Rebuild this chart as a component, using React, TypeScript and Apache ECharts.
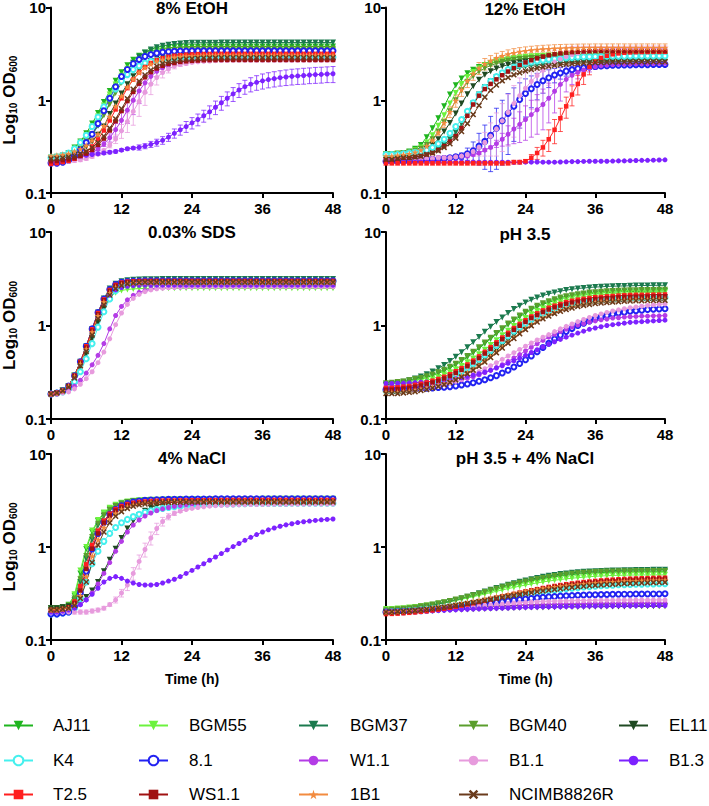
import React, { useEffect, useRef } from "react";
import * as echarts from "echarts";

const HOURS = [0,1,2,3,4,5,6,7,8,9,10,11,12,13,14,15,16,17,18,19,20,21,22,23,24,25,26,27,28,29,30,31,32,33,34,35,36,37,38,39,40,41,42,43,44,45,46,47,48];
const X_TICK_INTERVAL = 12;
const STRAINS = ["AJ11","BGM55","BGM37","BGM40","EL11","K4","8.1","W1.1","B1.1","B1.3","T2.5","WS1.1","1B1","NCIMB8826R"];
const COLORS = ["#1fb51f","#6cf23e","#1b7a4e","#5b9e2d","#1f4a22","#45f0ee","#2222f2","#b43ce6","#e79bdd","#7d22ff","#ff1f1f","#a01212","#f28b3f","#6a3b1c"];
const PANEL_TITLES = ["8% EtOH","12% EtOH","0.03% SDS","pH 3.5","4% NaCl","pH 3.5 + 4% NaCl"];

// ---- 8% EtOH (rows in STRAINS order) ----
const ETOH8: number[][] = [
[0.24,0.245,0.25,0.27,0.31,0.36,0.44,0.56,0.73,0.96,1.26,1.62,2.01,2.39,2.74,3.02,3.26,3.41,3.53,3.62,3.67,3.72,3.74,3.77,3.78,3.78,3.79,3.79,3.79,3.79,3.8,3.8,3.8,3.8,3.8,3.8,3.8,3.8,3.8,3.8,3.8,3.8,3.8,3.8,3.8,3.8,3.8,3.8,3.8],
[0.23,0.235,0.245,0.265,0.3,0.35,0.416,0.519,0.667,0.876,1.15,1.48,1.84,2.19,2.51,2.77,2.99,3.12,3.23,3.32,3.37,3.41,3.43,3.45,3.46,3.46,3.47,3.47,3.47,3.48,3.48,3.48,3.48,3.48,3.48,3.48,3.48,3.48,3.48,3.48,3.48,3.48,3.48,3.48,3.48,3.48,3.48,3.48,3.48],
[0.22,0.227,0.235,0.25,0.269,0.3,0.347,0.42,0.531,0.697,0.939,1.26,1.66,2.1,2.54,2.94,3.28,3.53,3.72,3.86,3.97,4.03,4.1,4.14,4.16,4.17,4.17,4.18,4.18,4.19,4.19,4.19,4.19,4.19,4.19,4.19,4.19,4.19,4.19,4.19,4.19,4.19,4.19,4.19,4.19,4.19,4.19,4.19,4.19],
[0.24,0.246,0.253,0.267,0.287,0.317,0.363,0.431,0.538,0.691,0.907,1.2,1.54,1.91,2.27,2.6,2.87,3.1,3.24,3.35,3.44,3.49,3.53,3.55,3.58,3.59,3.59,3.6,3.6,3.6,3.6,3.6,3.6,3.6,3.6,3.6,3.6,3.6,3.6,3.6,3.6,3.6,3.6,3.6,3.6,3.6,3.6,3.6,3.6],
[0.23,0.235,0.24,0.25,0.265,0.285,0.315,0.36,0.425,0.52,0.71,0.92,1.18,1.49,1.81,2.13,2.41,2.65,2.83,2.96,3.03,3.11,3.16,3.19,3.22,3.24,3.25,3.25,3.26,3.26,3.26,3.26,3.26,3.26,3.26,3.26,3.26,3.26,3.26,3.26,3.26,3.26,3.26,3.26,3.26,3.26,3.26,3.26,3.26],
[0.24,0.245,0.255,0.27,0.3,0.35,0.42,0.52,0.66,0.85,1.05,1.32,1.61,1.89,2.14,2.35,2.52,2.63,2.7,2.76,2.81,2.83,2.86,2.88,2.89,2.89,2.9,2.9,2.9,2.9,2.9,2.9,2.9,2.9,2.9,2.9,2.9,2.9,2.9,2.9,2.9,2.9,2.9,2.9,2.9,2.9,2.9,2.9,2.9],
[0.21,0.21,0.215,0.225,0.25,0.29,0.35,0.43,0.56,0.77,1.05,1.4,1.8,2.15,2.48,2.75,2.97,3.11,3.22,3.3,3.34,3.37,3.39,3.4,3.41,3.41,3.42,3.42,3.42,3.42,3.42,3.42,3.42,3.42,3.42,3.42,3.42,3.42,3.42,3.42,3.42,3.42,3.42,3.42,3.42,3.42,3.42,3.42,3.42],
[0.222,0.224,0.227,0.231,0.235,0.242,0.255,0.271,0.297,0.337,0.394,0.482,0.607,0.781,1.0,1.26,1.54,1.81,2.05,2.24,2.4,2.51,2.57,2.64,2.68,2.71,2.73,2.75,2.76,2.76,2.77,2.77,2.77,2.77,2.77,2.77,2.77,2.77,2.77,2.77,2.77,2.77,2.77,2.77,2.77,2.77,2.77,2.77,2.77],
[0.215,0.216,0.217,0.22,0.224,0.228,0.235,0.247,0.263,0.288,0.327,0.382,0.468,0.589,0.758,0.97,1.22,1.49,1.76,1.99,2.17,2.33,2.43,2.49,2.56,2.6,2.63,2.65,2.67,2.68,2.68,2.69,2.69,2.69,2.69,2.69,2.69,2.69,2.69,2.69,2.69,2.69,2.69,2.69,2.69,2.69,2.69,2.69,2.69],
[0.21,0.21,0.22,0.23,0.24,0.25,0.255,0.26,0.265,0.27,0.275,0.28,0.29,0.3,0.305,0.31,0.32,0.335,0.35,0.37,0.4,0.44,0.48,0.52,0.57,0.62,0.68,0.75,0.84,0.94,1.05,1.17,1.29,1.4,1.49,1.56,1.62,1.67,1.71,1.75,1.78,1.81,1.83,1.85,1.87,1.89,1.9,1.92,1.93],
[0.206,0.21,0.216,0.222,0.234,0.252,0.278,0.318,0.378,0.472,0.606,0.796,1.05,1.35,1.67,1.99,2.28,2.52,2.72,2.84,2.94,3.02,3.06,3.1,3.12,3.14,3.15,3.15,3.16,3.16,3.16,3.16,3.16,3.16,3.16,3.16,3.16,3.16,3.16,3.16,3.16,3.16,3.16,3.16,3.16,3.16,3.16,3.16,3.16],
[0.22,0.222,0.226,0.23,0.237,0.25,0.266,0.291,0.33,0.386,0.472,0.595,0.765,0.98,1.23,1.51,1.77,2.01,2.2,2.35,2.46,2.52,2.59,2.63,2.66,2.68,2.7,2.71,2.71,2.72,2.72,2.72,2.72,2.72,2.72,2.72,2.72,2.72,2.72,2.72,2.72,2.72,2.72,2.72,2.72,2.72,2.72,2.72,2.72],
[0.25,0.254,0.259,0.266,0.281,0.298,0.326,0.37,0.432,0.529,0.668,0.858,1.11,1.39,1.69,1.99,2.25,2.46,2.63,2.75,2.83,2.9,2.95,2.98,2.99,3.02,3.03,3.03,3.04,3.04,3.04,3.04,3.04,3.04,3.04,3.04,3.04,3.04,3.04,3.04,3.04,3.04,3.04,3.04,3.04,3.04,3.04,3.04,3.04],
[0.233,0.235,0.239,0.244,0.251,0.264,0.28,0.308,0.349,0.409,0.5,0.629,0.809,1.04,1.31,1.6,1.87,2.12,2.33,2.49,2.6,2.67,2.74,2.78,2.8,2.83,2.85,2.86,2.86,2.87,2.87,2.87,2.87,2.87,2.87,2.87,2.87,2.87,2.87,2.87,2.87,2.87,2.87,2.87,2.87,2.87,2.87,2.87,2.87],
];

// ---- 12% EtOH ----
const ETOH12: number[][] = [
[0.26,0.26,0.265,0.27,0.28,0.3,0.33,0.4,0.5,0.64,0.86,1.15,1.45,1.72,1.95,2.13,2.28,2.4,2.5,2.58,2.65,2.7,2.75,2.78,2.81,2.83,2.85,2.86,2.87,2.88,2.88,2.88,2.89,2.89,2.89,2.89,2.9,2.9,2.9,2.9,2.9,2.9,2.9,2.9,2.9,2.9,2.9,2.9,2.9],
[0.26,0.26,0.265,0.27,0.275,0.29,0.31,0.35,0.42,0.53,0.69,0.92,1.2,1.5,1.78,2.02,2.22,2.38,2.52,2.63,2.72,2.8,2.86,2.91,2.95,2.98,3.0,3.02,3.04,3.05,3.06,3.07,3.07,3.08,3.08,3.09,3.09,3.09,3.1,3.1,3.1,3.1,3.1,3.1,3.1,3.1,3.1,3.1,3.1],
[0.24,0.24,0.245,0.25,0.25,0.255,0.26,0.27,0.28,0.3,0.33,0.38,0.45,0.56,0.72,0.92,1.15,1.38,1.6,1.78,1.93,2.06,2.16,2.24,2.31,2.37,2.42,2.46,2.49,2.52,2.54,2.56,2.57,2.58,2.58,2.59,2.59,2.6,2.6,2.6,2.6,2.6,2.6,2.6,2.6,2.6,2.6,2.6,2.6],
[0.26,0.26,0.265,0.27,0.275,0.285,0.3,0.33,0.38,0.46,0.58,0.76,1.0,1.28,1.56,1.82,2.04,2.22,2.37,2.49,2.59,2.67,2.73,2.78,2.82,2.85,2.88,2.9,2.92,2.94,2.95,2.96,2.97,2.97,2.98,2.98,2.99,2.99,3.0,3.0,3.0,3.0,3.0,3.0,3.0,3.0,3.0,3.0,3.0],
[0.25,0.25,0.255,0.26,0.265,0.27,0.28,0.3,0.33,0.38,0.46,0.57,0.72,0.92,1.16,1.42,1.66,1.88,2.06,2.2,2.32,2.42,2.5,2.56,2.61,2.65,2.68,2.71,2.73,2.75,2.76,2.77,2.78,2.78,2.79,2.79,2.8,2.8,2.8,2.8,2.8,2.8,2.8,2.8,2.8,2.8,2.8,2.8,2.8],
[0.26,0.26,0.26,0.265,0.27,0.275,0.28,0.29,0.31,0.34,0.38,0.44,0.52,0.62,0.76,0.94,1.15,1.38,1.6,1.8,1.98,2.14,2.28,2.4,2.5,2.58,2.65,2.71,2.76,2.8,2.84,2.87,2.9,2.92,2.94,2.95,2.96,2.97,2.98,2.98,2.99,2.99,3.0,3.0,3.0,3.0,3.0,3.0,3.0],
[0.22,0.22,0.22,0.22,0.22,0.225,0.225,0.23,0.23,0.23,0.235,0.24,0.245,0.25,0.265,0.285,0.32,0.36,0.42,0.5,0.6,0.72,0.86,1.02,1.18,1.33,1.48,1.62,1.75,1.87,1.97,2.06,2.13,2.19,2.24,2.28,2.31,2.34,2.36,2.38,2.39,2.4,2.4,2.41,2.42,2.42,2.43,2.43,2.43],
[0.23,0.23,0.23,0.23,0.23,0.23,0.235,0.235,0.235,0.24,0.24,0.24,0.245,0.25,0.25,0.26,0.27,0.29,0.31,0.34,0.38,0.43,0.49,0.55,0.62,0.7,0.79,0.9,1.05,1.25,1.48,1.68,1.86,2.0,2.12,2.22,2.3,2.36,2.4,2.43,2.45,2.46,2.47,2.48,2.48,2.49,2.49,2.5,2.5],
[0.23,0.23,0.23,0.23,0.23,0.23,0.23,0.235,0.235,0.24,0.24,0.24,0.245,0.25,0.26,0.28,0.31,0.35,0.41,0.49,0.6,0.74,0.92,1.12,1.35,1.6,1.85,2.1,2.35,2.58,2.78,2.95,3.1,3.22,3.32,3.4,3.46,3.5,3.53,3.56,3.58,3.58,3.59,3.59,3.6,3.6,3.6,3.6,3.6],
[0.215,0.215,0.214,0.215,0.215,0.215,0.216,0.215,0.215,0.215,0.214,0.215,0.215,0.215,0.215,0.216,0.215,0.215,0.215,0.215,0.215,0.215,0.214,0.215,0.215,0.215,0.216,0.215,0.215,0.215,0.216,0.217,0.218,0.218,0.219,0.22,0.22,0.22,0.22,0.221,0.222,0.222,0.223,0.224,0.225,0.225,0.226,0.227,0.228],
[0.21,0.21,0.21,0.21,0.21,0.21,0.21,0.21,0.21,0.21,0.21,0.21,0.21,0.21,0.21,0.21,0.21,0.21,0.21,0.21,0.21,0.21,0.215,0.215,0.22,0.24,0.27,0.31,0.38,0.48,0.64,0.86,1.15,1.5,1.9,2.3,2.62,2.86,3.02,3.13,3.2,3.25,3.28,3.3,3.31,3.31,3.32,3.32,3.33],
[0.23,0.23,0.235,0.24,0.24,0.245,0.25,0.26,0.27,0.29,0.32,0.36,0.41,0.5,0.68,0.9,1.12,1.32,1.5,1.68,1.86,2.04,2.22,2.4,2.56,2.7,2.83,2.95,3.05,3.13,3.2,3.26,3.3,3.33,3.36,3.38,3.39,3.4,3.4,3.4,3.4,3.4,3.4,3.4,3.4,3.4,3.4,3.4,3.4],
[0.25,0.25,0.255,0.26,0.265,0.275,0.29,0.32,0.37,0.45,0.57,0.75,0.99,1.3,1.62,1.94,2.22,2.47,2.68,2.86,3.01,3.14,3.25,3.34,3.41,3.47,3.52,3.56,3.59,3.62,3.64,3.66,3.67,3.68,3.69,3.69,3.7,3.7,3.7,3.7,3.7,3.7,3.7,3.7,3.7,3.7,3.7,3.7,3.7],
[0.23,0.23,0.235,0.24,0.24,0.245,0.25,0.26,0.27,0.285,0.31,0.34,0.39,0.46,0.56,0.7,0.88,1.08,1.28,1.46,1.62,1.76,1.88,1.98,2.07,2.15,2.22,2.28,2.33,2.38,2.42,2.45,2.48,2.5,2.52,2.54,2.55,2.56,2.57,2.58,2.58,2.59,2.59,2.6,2.6,2.6,2.6,2.6,2.6],
];

// ---- 0.03% SDS ----
const SDS: number[][] = [
[0.185,0.19,0.2,0.225,0.29,0.4,0.58,0.88,1.3,1.82,2.28,2.58,2.74,2.82,2.86,2.88,2.89,2.89,2.9,2.9,2.9,2.9,2.9,2.9,2.9,2.9,2.9,2.9,2.9,2.9,2.9,2.9,2.9,2.9,2.9,2.9,2.9,2.9,2.9,2.9,2.9,2.9,2.9,2.9,2.9,2.9,2.9,2.9,2.9],
[0.185,0.19,0.2,0.225,0.29,0.4,0.57,0.85,1.22,1.64,2.0,2.24,2.37,2.43,2.46,2.48,2.49,2.49,2.5,2.5,2.5,2.5,2.5,2.5,2.5,2.5,2.5,2.5,2.5,2.5,2.5,2.5,2.5,2.5,2.5,2.5,2.5,2.5,2.5,2.5,2.5,2.5,2.5,2.5,2.5,2.5,2.5,2.5,2.5],
[0.185,0.19,0.2,0.225,0.29,0.41,0.6,0.92,1.38,1.95,2.48,2.8,2.97,3.05,3.09,3.11,3.12,3.13,3.13,3.14,3.15,3.15,3.15,3.15,3.15,3.15,3.15,3.15,3.15,3.15,3.15,3.15,3.15,3.15,3.15,3.15,3.15,3.15,3.15,3.15,3.15,3.15,3.15,3.15,3.15,3.15,3.15,3.15,3.15],
[0.185,0.19,0.2,0.225,0.29,0.4,0.58,0.87,1.28,1.77,2.2,2.49,2.64,2.72,2.76,2.78,2.79,2.79,2.8,2.8,2.8,2.8,2.8,2.8,2.8,2.8,2.8,2.8,2.8,2.8,2.8,2.8,2.8,2.8,2.8,2.8,2.8,2.8,2.8,2.8,2.8,2.8,2.8,2.8,2.8,2.8,2.8,2.8,2.8],
[0.185,0.19,0.2,0.22,0.27,0.36,0.5,0.73,1.08,1.52,1.98,2.34,2.56,2.68,2.74,2.77,2.78,2.79,2.8,2.8,2.8,2.8,2.8,2.8,2.8,2.8,2.8,2.8,2.8,2.8,2.8,2.8,2.8,2.8,2.8,2.8,2.8,2.8,2.8,2.8,2.8,2.8,2.8,2.8,2.8,2.8,2.8,2.8,2.8],
[0.185,0.19,0.195,0.21,0.25,0.32,0.44,0.64,0.96,1.4,1.92,2.36,2.64,2.8,2.88,2.92,2.94,2.95,2.95,2.95,2.95,2.95,2.95,2.95,2.95,2.95,2.95,2.95,2.95,2.95,2.95,2.95,2.95,2.95,2.95,2.95,2.95,2.95,2.95,2.95,2.95,2.95,2.95,2.95,2.95,2.95,2.95,2.95,2.95],
[0.185,0.19,0.2,0.225,0.29,0.41,0.6,0.92,1.38,1.92,2.42,2.74,2.9,2.96,2.98,2.99,3.0,3.0,3.0,3.0,3.0,3.0,3.0,3.0,3.0,3.0,3.0,3.0,3.0,3.0,3.0,3.0,3.0,3.0,3.0,3.0,3.0,3.0,3.0,3.0,3.0,3.0,3.0,3.0,3.0,3.0,3.0,3.0,3.0],
[0.185,0.19,0.195,0.205,0.225,0.26,0.31,0.38,0.48,0.64,0.92,1.28,1.6,1.88,2.1,2.26,2.37,2.45,2.5,2.53,2.55,2.57,2.58,2.59,2.59,2.6,2.6,2.6,2.6,2.6,2.6,2.6,2.6,2.6,2.6,2.6,2.6,2.6,2.6,2.6,2.6,2.6,2.6,2.6,2.6,2.6,2.6,2.6,2.6],
[0.185,0.185,0.19,0.195,0.21,0.235,0.27,0.32,0.4,0.52,0.72,1.02,1.36,1.68,1.95,2.15,2.3,2.4,2.47,2.51,2.54,2.56,2.58,2.59,2.59,2.6,2.6,2.6,2.6,2.6,2.6,2.6,2.6,2.6,2.6,2.6,2.6,2.6,2.6,2.6,2.6,2.6,2.6,2.6,2.6,2.6,2.6,2.6,2.6],
[0.185,0.19,0.2,0.225,0.285,0.39,0.56,0.85,1.25,1.72,2.12,2.4,2.55,2.63,2.67,2.69,2.7,2.7,2.7,2.7,2.7,2.7,2.7,2.7,2.7,2.7,2.7,2.7,2.7,2.7,2.7,2.7,2.7,2.7,2.7,2.7,2.7,2.7,2.7,2.7,2.7,2.7,2.7,2.7,2.7,2.7,2.7,2.7,2.7],
[0.185,0.19,0.2,0.225,0.29,0.41,0.6,0.91,1.36,1.9,2.4,2.72,2.88,2.95,2.98,2.99,3.0,3.0,3.0,3.0,3.0,3.0,3.0,3.0,3.0,3.0,3.0,3.0,3.0,3.0,3.0,3.0,3.0,3.0,3.0,3.0,3.0,3.0,3.0,3.0,3.0,3.0,3.0,3.0,3.0,3.0,3.0,3.0,3.0],
[0.185,0.19,0.2,0.225,0.29,0.4,0.58,0.88,1.32,1.86,2.34,2.66,2.83,2.9,2.93,2.94,2.95,2.95,2.95,2.95,2.95,2.95,2.95,2.95,2.95,2.95,2.95,2.95,2.95,2.95,2.95,2.95,2.95,2.95,2.95,2.95,2.95,2.95,2.95,2.95,2.95,2.95,2.95,2.95,2.95,2.95,2.95,2.95,2.95],
[0.185,0.19,0.2,0.225,0.285,0.39,0.56,0.85,1.27,1.78,2.24,2.56,2.73,2.82,2.86,2.88,2.9,2.9,2.9,2.9,2.9,2.9,2.9,2.9,2.9,2.9,2.9,2.9,2.9,2.9,2.9,2.9,2.9,2.9,2.9,2.9,2.9,2.9,2.9,2.9,2.9,2.9,2.9,2.9,2.9,2.9,2.9,2.9,2.9],
[0.185,0.19,0.2,0.22,0.275,0.37,0.53,0.79,1.18,1.66,2.12,2.48,2.68,2.79,2.85,2.88,2.9,2.9,2.9,2.9,2.9,2.9,2.9,2.9,2.9,2.9,2.9,2.9,2.9,2.9,2.9,2.9,2.9,2.9,2.9,2.9,2.9,2.9,2.9,2.9,2.9,2.9,2.9,2.9,2.9,2.9,2.9,2.9,2.9],
];

// ---- pH 3.5 ----
const PH35: number[][] = [
[0.234,0.237,0.241,0.245,0.252,0.259,0.267,0.279,0.291,0.308,0.327,0.352,0.38,0.416,0.458,0.508,0.569,0.638,0.719,0.809,0.908,1.02,1.13,1.24,1.36,1.47,1.58,1.68,1.77,1.85,1.93,2.0,2.05,2.1,2.14,2.18,2.2,2.23,2.25,2.27,2.29,2.3,2.31,2.31,2.32,2.33,2.33,2.34,2.34],
[0.227,0.227,0.23,0.234,0.238,0.244,0.251,0.259,0.271,0.282,0.299,0.317,0.341,0.369,0.404,0.444,0.493,0.552,0.619,0.697,0.785,0.881,0.989,1.1,1.2,1.32,1.43,1.53,1.63,1.72,1.79,1.87,1.94,1.99,2.04,2.08,2.11,2.13,2.16,2.18,2.2,2.22,2.23,2.24,2.24,2.25,2.26,2.26,2.27],
[0.232,0.237,0.243,0.251,0.259,0.271,0.284,0.301,0.322,0.348,0.378,0.417,0.463,0.519,0.585,0.662,0.753,0.855,0.968,1.09,1.22,1.36,1.5,1.63,1.76,1.88,1.99,2.09,2.18,2.26,2.33,2.39,2.44,2.49,2.52,2.55,2.58,2.59,2.62,2.63,2.64,2.65,2.66,2.67,2.68,2.68,2.69,2.69,2.69],
[0.241,0.244,0.248,0.252,0.26,0.267,0.275,0.287,0.3,0.317,0.337,0.363,0.391,0.428,0.472,0.523,0.586,0.657,0.741,0.833,0.935,1.05,1.16,1.28,1.4,1.51,1.63,1.73,1.82,1.91,1.99,2.06,2.11,2.16,2.2,2.25,2.27,2.3,2.32,2.34,2.36,2.37,2.38,2.38,2.39,2.4,2.4,2.41,2.41],
[0.201,0.201,0.201,0.204,0.207,0.211,0.217,0.223,0.229,0.24,0.25,0.265,0.281,0.303,0.327,0.358,0.394,0.437,0.489,0.548,0.618,0.696,0.781,0.877,0.972,1.07,1.17,1.26,1.36,1.44,1.52,1.59,1.66,1.72,1.76,1.81,1.84,1.87,1.89,1.92,1.94,1.95,1.97,1.98,1.98,1.99,1.99,2.0,2.0],
[0.199,0.199,0.201,0.205,0.208,0.214,0.22,0.227,0.237,0.247,0.262,0.278,0.299,0.323,0.354,0.389,0.432,0.484,0.542,0.611,0.688,0.772,0.867,0.96,1.05,1.16,1.25,1.34,1.43,1.5,1.57,1.64,1.7,1.74,1.79,1.82,1.85,1.87,1.9,1.91,1.93,1.95,1.96,1.96,1.96,1.97,1.98,1.98,1.99],
[0.207,0.207,0.208,0.208,0.209,0.21,0.212,0.213,0.215,0.217,0.219,0.222,0.226,0.231,0.237,0.244,0.253,0.263,0.276,0.291,0.31,0.332,0.36,0.392,0.43,0.473,0.525,0.582,0.646,0.716,0.789,0.865,0.93,1.0,1.06,1.12,1.18,1.23,1.28,1.32,1.36,1.39,1.42,1.44,1.46,1.48,1.49,1.5,1.51],
[0.223,0.224,0.225,0.226,0.227,0.229,0.231,0.233,0.236,0.239,0.244,0.249,0.255,0.262,0.272,0.283,0.296,0.313,0.331,0.355,0.381,0.412,0.449,0.489,0.535,0.585,0.637,0.693,0.75,0.805,0.863,0.914,0.964,1.01,1.05,1.09,1.12,1.15,1.17,1.2,1.21,1.23,1.24,1.25,1.26,1.26,1.27,1.27,1.28],
[0.2,0.201,0.202,0.204,0.206,0.208,0.211,0.215,0.22,0.226,0.233,0.242,0.253,0.266,0.282,0.3,0.32,0.345,0.372,0.4,0.435,0.472,0.512,0.555,0.6,0.65,0.7,0.75,0.8,0.86,0.92,0.98,1.04,1.1,1.16,1.22,1.28,1.33,1.38,1.43,1.47,1.51,1.55,1.58,1.61,1.64,1.66,1.68,1.7],
[0.24,0.24,0.241,0.242,0.243,0.245,0.247,0.249,0.252,0.255,0.259,0.264,0.27,0.276,0.284,0.294,0.305,0.318,0.333,0.351,0.371,0.394,0.42,0.448,0.48,0.514,0.55,0.59,0.63,0.67,0.71,0.75,0.79,0.83,0.87,0.91,0.94,0.97,1.0,1.02,1.04,1.06,1.08,1.09,1.1,1.11,1.12,1.13,1.14],
[0.215,0.215,0.218,0.222,0.225,0.232,0.238,0.246,0.257,0.268,0.283,0.301,0.324,0.35,0.383,0.421,0.467,0.523,0.587,0.661,0.744,0.835,0.938,1.04,1.14,1.25,1.35,1.45,1.55,1.63,1.7,1.78,1.84,1.89,1.93,1.97,2.01,2.02,2.05,2.07,2.09,2.11,2.12,2.13,2.13,2.13,2.14,2.14,2.15],
[0.206,0.206,0.209,0.212,0.216,0.222,0.228,0.235,0.246,0.256,0.271,0.288,0.31,0.334,0.366,0.403,0.447,0.501,0.561,0.633,0.712,0.799,0.898,0.994,1.09,1.2,1.29,1.39,1.48,1.56,1.63,1.7,1.76,1.8,1.85,1.88,1.92,1.94,1.96,1.98,2.0,2.02,2.02,2.03,2.03,2.04,2.05,2.05,2.06],
[0.192,0.192,0.192,0.194,0.198,0.201,0.207,0.212,0.219,0.229,0.239,0.253,0.268,0.289,0.312,0.341,0.376,0.417,0.467,0.523,0.59,0.663,0.745,0.836,0.927,1.02,1.12,1.21,1.3,1.38,1.45,1.52,1.58,1.64,1.68,1.72,1.76,1.79,1.8,1.83,1.85,1.86,1.88,1.89,1.89,1.9,1.9,1.91,1.91],
[0.187,0.187,0.187,0.19,0.193,0.196,0.202,0.207,0.214,0.223,0.233,0.246,0.262,0.282,0.304,0.333,0.366,0.407,0.455,0.51,0.575,0.647,0.726,0.816,0.904,0.992,1.09,1.18,1.26,1.34,1.42,1.48,1.54,1.6,1.64,1.68,1.72,1.74,1.76,1.78,1.8,1.82,1.83,1.84,1.84,1.85,1.85,1.86,1.86],
];

// ---- 4% NaCl ----
const NACL: number[][] = [
[0.22,0.22,0.225,0.24,0.3,0.52,0.95,1.45,1.9,2.3,2.6,2.8,2.95,3.05,3.1,3.14,3.17,3.19,3.2,3.21,3.22,3.22,3.23,3.23,3.24,3.24,3.24,3.25,3.25,3.25,3.25,3.26,3.26,3.26,3.26,3.27,3.27,3.27,3.27,3.27,3.28,3.28,3.28,3.28,3.28,3.28,3.28,3.28,3.28],
[0.21,0.215,0.22,0.235,0.31,0.56,1.0,1.5,1.95,2.35,2.65,2.85,3.0,3.08,3.14,3.18,3.2,3.22,3.23,3.24,3.25,3.25,3.26,3.26,3.27,3.27,3.27,3.28,3.28,3.28,3.28,3.29,3.29,3.29,3.29,3.29,3.3,3.3,3.3,3.3,3.3,3.3,3.3,3.3,3.3,3.3,3.3,3.3,3.3],
[0.21,0.215,0.22,0.23,0.27,0.42,0.75,1.2,1.7,2.15,2.5,2.75,2.92,3.02,3.08,3.12,3.14,3.16,3.17,3.17,3.18,3.18,3.18,3.19,3.19,3.19,3.19,3.19,3.2,3.2,3.2,3.2,3.2,3.2,3.2,3.2,3.2,3.2,3.2,3.2,3.2,3.2,3.2,3.2,3.2,3.2,3.2,3.2,3.2],
[0.22,0.22,0.225,0.235,0.28,0.45,0.8,1.28,1.78,2.2,2.52,2.76,2.92,3.02,3.08,3.12,3.14,3.15,3.16,3.17,3.17,3.18,3.18,3.18,3.19,3.19,3.19,3.19,3.2,3.2,3.2,3.2,3.2,3.2,3.2,3.2,3.2,3.2,3.2,3.2,3.2,3.2,3.2,3.2,3.2,3.2,3.2,3.2,3.2],
[0.22,0.22,0.225,0.23,0.24,0.26,0.29,0.34,0.42,0.55,0.73,0.96,1.25,1.58,1.9,2.2,2.45,2.65,2.8,2.92,3.0,3.06,3.1,3.13,3.15,3.16,3.17,3.18,3.18,3.19,3.2,3.2,3.2,3.2,3.2,3.2,3.2,3.2,3.2,3.2,3.2,3.2,3.2,3.2,3.2,3.2,3.2,3.2,3.2],
[0.19,0.19,0.195,0.2,0.22,0.28,0.42,0.66,0.9,1.15,1.4,1.62,1.82,1.98,2.12,2.25,2.36,2.45,2.53,2.6,2.66,2.71,2.75,2.79,2.82,2.84,2.86,2.88,2.89,2.9,2.91,2.91,2.92,2.92,2.93,2.93,2.93,2.94,2.94,2.94,2.94,2.95,2.95,2.95,2.95,2.95,2.95,2.95,2.95],
[0.19,0.19,0.195,0.2,0.23,0.32,0.55,0.95,1.4,1.85,2.25,2.55,2.78,2.94,3.05,3.12,3.17,3.2,3.22,3.24,3.25,3.26,3.26,3.27,3.27,3.28,3.28,3.28,3.29,3.29,3.3,3.3,3.3,3.3,3.3,3.3,3.3,3.3,3.3,3.3,3.3,3.3,3.3,3.3,3.3,3.3,3.3,3.3,3.3],
[0.2,0.2,0.205,0.21,0.22,0.24,0.27,0.32,0.4,0.52,0.68,0.9,1.15,1.45,1.72,1.95,2.15,2.32,2.46,2.57,2.66,2.73,2.79,2.84,2.88,2.91,2.93,2.95,2.96,2.97,2.98,2.98,2.99,2.99,2.99,3.0,3.0,3.0,3.0,3.0,3.0,3.0,3.0,3.0,3.0,3.0,3.0,3.0,3.0],
[0.2,0.2,0.2,0.2,0.2,0.2,0.2,0.205,0.21,0.22,0.24,0.27,0.32,0.39,0.52,0.7,0.94,1.25,1.58,1.88,2.12,2.3,2.43,2.53,2.6,2.66,2.71,2.75,2.78,2.8,2.82,2.83,2.84,2.85,2.86,2.86,2.87,2.87,2.88,2.88,2.88,2.89,2.89,2.89,2.89,2.9,2.9,2.9,2.9],
[0.2,0.2,0.205,0.21,0.22,0.24,0.27,0.31,0.36,0.42,0.46,0.48,0.46,0.43,0.41,0.395,0.39,0.39,0.395,0.41,0.43,0.45,0.48,0.52,0.56,0.61,0.66,0.72,0.78,0.85,0.93,1.01,1.09,1.18,1.27,1.36,1.45,1.53,1.6,1.67,1.73,1.78,1.83,1.87,1.9,1.93,1.96,1.98,2.0],
[0.21,0.21,0.215,0.225,0.26,0.38,0.65,1.05,1.5,1.92,2.28,2.56,2.76,2.9,2.99,3.05,3.09,3.12,3.14,3.15,3.16,3.16,3.17,3.17,3.18,3.18,3.18,3.19,3.19,3.19,3.2,3.2,3.2,3.2,3.2,3.2,3.2,3.2,3.2,3.2,3.2,3.2,3.2,3.2,3.2,3.2,3.2,3.2,3.2],
[0.21,0.21,0.215,0.225,0.25,0.34,0.58,0.96,1.4,1.82,2.18,2.46,2.66,2.8,2.9,2.96,3.0,3.03,3.05,3.06,3.07,3.08,3.08,3.09,3.09,3.09,3.1,3.1,3.1,3.1,3.1,3.1,3.1,3.1,3.1,3.1,3.1,3.1,3.1,3.1,3.1,3.1,3.1,3.1,3.1,3.1,3.1,3.1,3.1],
[0.21,0.21,0.215,0.22,0.24,0.3,0.48,0.8,1.2,1.62,2.0,2.3,2.54,2.72,2.84,2.92,2.98,3.02,3.04,3.06,3.07,3.08,3.08,3.09,3.09,3.09,3.1,3.1,3.1,3.1,3.1,3.1,3.1,3.1,3.1,3.1,3.1,3.1,3.1,3.1,3.1,3.1,3.1,3.1,3.1,3.1,3.1,3.1,3.1],
[0.21,0.21,0.215,0.22,0.235,0.28,0.42,0.68,1.05,1.45,1.82,2.14,2.4,2.6,2.74,2.84,2.9,2.95,2.98,3.0,3.01,3.02,3.03,3.03,3.04,3.04,3.04,3.05,3.05,3.05,3.05,3.05,3.05,3.05,3.05,3.05,3.05,3.05,3.05,3.05,3.05,3.05,3.05,3.05,3.05,3.05,3.05,3.05,3.05],
];

// ---- pH 3.5 + 4% NaCl ----
const PHNACL: number[][] = [
[0.205,0.207,0.21,0.213,0.216,0.22,0.225,0.23,0.236,0.243,0.25,0.258,0.267,0.276,0.286,0.297,0.309,0.322,0.335,0.349,0.363,0.377,0.391,0.405,0.418,0.431,0.444,0.456,0.467,0.478,0.488,0.497,0.505,0.512,0.518,0.523,0.527,0.53,0.533,0.535,0.537,0.538,0.539,0.54,0.54,0.541,0.541,0.542,0.542],
[0.215,0.216,0.218,0.22,0.223,0.226,0.23,0.235,0.24,0.246,0.252,0.259,0.266,0.274,0.283,0.292,0.302,0.312,0.323,0.334,0.345,0.357,0.368,0.379,0.39,0.401,0.411,0.421,0.43,0.439,0.447,0.455,0.462,0.468,0.474,0.479,0.484,0.488,0.491,0.494,0.496,0.498,0.499,0.5,0.5,0.501,0.501,0.502,0.502],
[0.2,0.203,0.206,0.21,0.214,0.218,0.223,0.229,0.236,0.244,0.252,0.26,0.27,0.28,0.292,0.305,0.318,0.332,0.347,0.362,0.377,0.392,0.407,0.422,0.437,0.451,0.465,0.478,0.49,0.501,0.511,0.52,0.528,0.535,0.541,0.546,0.55,0.553,0.556,0.558,0.56,0.562,0.564,0.565,0.566,0.567,0.568,0.569,0.57],
[0.209,0.211,0.214,0.217,0.22,0.224,0.23,0.235,0.241,0.248,0.255,0.263,0.272,0.282,0.292,0.303,0.315,0.328,0.342,0.356,0.37,0.385,0.399,0.413,0.426,0.44,0.453,0.465,0.476,0.488,0.498,0.507,0.515,0.522,0.528,0.533,0.538,0.541,0.544,0.546,0.548,0.549,0.55,0.551,0.551,0.552,0.552,0.553,0.553],
[0.2,0.2,0.201,0.202,0.203,0.204,0.205,0.206,0.207,0.208,0.209,0.21,0.211,0.212,0.213,0.214,0.215,0.216,0.217,0.218,0.219,0.22,0.221,0.222,0.222,0.223,0.224,0.224,0.225,0.225,0.226,0.226,0.227,0.227,0.227,0.228,0.228,0.228,0.229,0.229,0.229,0.229,0.23,0.23,0.23,0.23,0.23,0.23,0.23],
[0.2,0.201,0.202,0.204,0.206,0.208,0.211,0.214,0.217,0.221,0.225,0.229,0.234,0.239,0.244,0.25,0.256,0.262,0.268,0.275,0.282,0.289,0.296,0.303,0.31,0.317,0.324,0.331,0.338,0.344,0.35,0.356,0.361,0.366,0.371,0.375,0.379,0.383,0.386,0.389,0.392,0.394,0.396,0.398,0.399,0.4,0.401,0.402,0.403],
[0.2,0.2,0.201,0.202,0.203,0.205,0.207,0.209,0.211,0.214,0.217,0.22,0.223,0.227,0.231,0.235,0.239,0.243,0.248,0.253,0.258,0.263,0.267,0.272,0.276,0.28,0.284,0.288,0.291,0.294,0.297,0.299,0.301,0.303,0.305,0.306,0.307,0.308,0.309,0.31,0.31,0.311,0.311,0.312,0.312,0.313,0.313,0.313,0.314],
[0.2,0.2,0.2,0.201,0.202,0.203,0.204,0.205,0.207,0.209,0.211,0.213,0.215,0.217,0.219,0.221,0.223,0.225,0.227,0.229,0.231,0.233,0.235,0.237,0.238,0.239,0.24,0.241,0.242,0.243,0.244,0.245,0.245,0.246,0.246,0.247,0.247,0.248,0.248,0.248,0.249,0.249,0.249,0.25,0.25,0.25,0.25,0.25,0.25],
[0.195,0.196,0.197,0.198,0.2,0.202,0.204,0.206,0.208,0.211,0.214,0.217,0.22,0.223,0.226,0.229,0.232,0.235,0.238,0.241,0.244,0.247,0.25,0.252,0.254,0.256,0.258,0.26,0.261,0.262,0.263,0.264,0.265,0.266,0.266,0.267,0.267,0.268,0.268,0.268,0.269,0.269,0.269,0.27,0.27,0.27,0.27,0.27,0.27],
[0.2,0.2,0.201,0.202,0.203,0.204,0.205,0.206,0.207,0.208,0.209,0.21,0.211,0.213,0.214,0.215,0.216,0.217,0.218,0.219,0.22,0.221,0.222,0.223,0.224,0.225,0.226,0.227,0.227,0.228,0.228,0.229,0.229,0.23,0.23,0.231,0.231,0.232,0.232,0.232,0.233,0.233,0.233,0.234,0.234,0.234,0.235,0.235,0.235],
[0.19,0.191,0.192,0.194,0.196,0.198,0.201,0.204,0.208,0.212,0.217,0.222,0.228,0.234,0.241,0.248,0.256,0.264,0.273,0.282,0.292,0.302,0.312,0.322,0.332,0.342,0.352,0.362,0.372,0.381,0.39,0.398,0.406,0.413,0.42,0.426,0.432,0.437,0.442,0.446,0.45,0.453,0.456,0.459,0.461,0.463,0.465,0.467,0.468],
[0.195,0.196,0.198,0.2,0.202,0.205,0.208,0.211,0.215,0.219,0.224,0.229,0.235,0.241,0.247,0.254,0.261,0.269,0.277,0.285,0.294,0.303,0.312,0.321,0.33,0.339,0.348,0.357,0.366,0.374,0.382,0.39,0.397,0.404,0.41,0.416,0.421,0.426,0.43,0.434,0.438,0.441,0.444,0.447,0.449,0.451,0.453,0.455,0.456],
[0.2,0.201,0.203,0.205,0.207,0.21,0.213,0.217,0.221,0.226,0.231,0.236,0.242,0.248,0.255,0.262,0.269,0.277,0.285,0.293,0.301,0.31,0.318,0.327,0.335,0.343,0.351,0.359,0.366,0.373,0.38,0.386,0.392,0.398,0.403,0.408,0.412,0.416,0.42,0.423,0.426,0.429,0.431,0.433,0.435,0.437,0.438,0.439,0.44],
[0.2,0.201,0.202,0.204,0.206,0.208,0.211,0.214,0.218,0.222,0.226,0.231,0.236,0.241,0.247,0.253,0.259,0.266,0.273,0.28,0.287,0.294,0.301,0.309,0.316,0.323,0.33,0.337,0.344,0.35,0.356,0.362,0.368,0.373,0.378,0.383,0.387,0.391,0.395,0.398,0.401,0.404,0.406,0.408,0.41,0.412,0.414,0.416,0.417],
];

// ---- standard deviations (error bars) for the strains that show visible bars ----
const SD_ETOH8_B13 = [0.01,0.01,0.01,0.01,0.01,0.01,0.01,0.01,0.01,0.01,0.01,0.01,0.01,0.01,0.01,0.02,0.02,0.025,0.03,0.035,0.04,0.05,0.06,0.07,0.08,0.09,0.1,0.12,0.14,0.16,0.18,0.2,0.22,0.24,0.26,0.28,0.3,0.31,0.32,0.33,0.34,0.35,0.35,0.36,0.36,0.37,0.37,0.37,0.38];
const SD_ETOH8_W11 = [0.01,0.01,0.01,0.01,0.01,0.01,0.01,0.01,0.01,0.02,0.04,0.08,0.14,0.22,0.3,0.34,0.34,0.3,0.25,0.2,0.15,0.12,0.1,0.08,0.06,0.06,0.06,0.06,0.06,0.06,0.06,0.06,0.06,0.06,0.06,0.06,0.06,0.06,0.06,0.06,0.06,0.06,0.06,0.06,0.06,0.06,0.06,0.06,0.06];
const SD_ETOH8_B11 = [0.01,0.01,0.01,0.01,0.01,0.01,0.01,0.01,0.01,0.01,0.02,0.04,0.08,0.14,0.22,0.3,0.34,0.34,0.3,0.25,0.2,0.15,0.12,0.1,0.08,0.06,0.06,0.06,0.06,0.06,0.06,0.06,0.06,0.06,0.06,0.06,0.06,0.06,0.06,0.06,0.06,0.06,0.06,0.06,0.06,0.06,0.06,0.06,0.06];
const SD_ETOH12_81 = [0.01,0.01,0.01,0.01,0.01,0.01,0.01,0.01,0.01,0.01,0.01,0.01,0.01,0.02,0.04,0.07,0.12,0.18,0.25,0.32,0.4,0.46,0.5,0.52,0.52,0.5,0.47,0.43,0.38,0.33,0.28,0.24,0.2,0.17,0.14,0.12,0.1,0.1,0.1,0.1,0.1,0.1,0.1,0.1,0.1,0.1,0.1,0.1,0.1];
const SD_ETOH12_B11 = [0.01,0.01,0.01,0.01,0.01,0.01,0.01,0.01,0.01,0.01,0.01,0.01,0.01,0.01,0.01,0.03,0.06,0.1,0.16,0.24,0.32,0.42,0.52,0.62,0.72,0.8,0.86,0.9,0.9,0.88,0.84,0.78,0.7,0.6,0.5,0.42,0.35,0.3,0.25,0.25,0.25,0.25,0.25,0.25,0.25,0.25,0.25,0.25,0.25];
const SD_ETOH12_W11 = [0.01,0.01,0.01,0.01,0.01,0.01,0.01,0.01,0.01,0.01,0.01,0.01,0.01,0.01,0.01,0.01,0.01,0.01,0.01,0.03,0.06,0.1,0.15,0.2,0.25,0.3,0.36,0.42,0.48,0.52,0.5,0.45,0.38,0.3,0.24,0.2,0.15,0.15,0.15,0.15,0.15,0.15,0.15,0.15,0.15,0.15,0.15,0.15,0.15];
const SD_ETOH12_T25 = [0.01,0.01,0.01,0.01,0.01,0.01,0.01,0.01,0.01,0.01,0.01,0.01,0.01,0.01,0.01,0.01,0.01,0.01,0.01,0.01,0.01,0.01,0.01,0.01,0.01,0.02,0.04,0.06,0.1,0.14,0.18,0.22,0.28,0.36,0.42,0.42,0.36,0.28,0.2,0.15,0.1,0.1,0.1,0.1,0.1,0.1,0.1,0.1,0.1];
const SD_ETOH12_1B1 = [0.01,0.01,0.01,0.01,0.01,0.01,0.01,0.01,0.01,0.03,0.06,0.1,0.15,0.2,0.25,0.3,0.33,0.35,0.35,0.35,0.35,0.35,0.35,0.35,0.35,0.35,0.35,0.35,0.35,0.35,0.35,0.35,0.35,0.35,0.35,0.35,0.35,0.35,0.35,0.35,0.35,0.35,0.35,0.35,0.35,0.35,0.35,0.35,0.35];
const SD_NACL_B11 = [0.01,0.01,0.01,0.01,0.01,0.01,0.01,0.01,0.01,0.01,0.01,0.02,0.03,0.05,0.08,0.12,0.16,0.2,0.22,0.2,0.16,0.12,0.08,0.05,0.05,0.05,0.05,0.05,0.05,0.05,0.05,0.05,0.05,0.05,0.05,0.05,0.05,0.05,0.05,0.05,0.05,0.05,0.05,0.05,0.05,0.05,0.05,0.05,0.05];

const PANEL_DATA = [ETOH8, ETOH12, SDS, PH35, NACL, PHNACL];
const ERROR_BARS: { panel: number; strain: string; sd: number[] }[] = [
  { panel: 0, strain: "B1.3", sd: SD_ETOH8_B13 },
  { panel: 0, strain: "W1.1", sd: SD_ETOH8_W11 },
  { panel: 0, strain: "B1.1", sd: SD_ETOH8_B11 },
  { panel: 1, strain: "8.1", sd: SD_ETOH12_81 },
  { panel: 1, strain: "B1.1", sd: SD_ETOH12_B11 },
  { panel: 1, strain: "W1.1", sd: SD_ETOH12_W11 },
  { panel: 1, strain: "T2.5", sd: SD_ETOH12_T25 },
  { panel: 1, strain: "1B1", sd: SD_ETOH12_1B1 },
  { panel: 4, strain: "B1.1", sd: SD_NACL_B11 },
];

const FONT = '"Liberation Sans", Arial, Helvetica, sans-serif';
const STAR = "path://M50,0 L61,35 L98,35 L68,57 L79,91 L50,70 L21,91 L32,57 L2,35 L39,35 Z";
const CROSS = "path://M0,18 L18,0 L50,32 L82,0 L100,18 L68,50 L100,82 L82,100 L50,68 L18,100 L0,82 L32,50 Z";
const SYMBOLS = ["triangle","triangle","triangle","triangle","triangle","emptyCircle","emptyCircle","circle","circle","circle","rect","rect",STAR,CROSS];
const SYMBOL_SIZES = [6,6,6,6,6,5,5,5,5,5,4.5,4.5,7,6];
const LEGEND_SYMBOL_SIZES = [9,9,9,9,9,8,8,8,8,8,8,8,9,9];
const SYMBOL_ROTATE = [180,180,180,180,180,0,0,0,0,0,0,0,0,0];

const GRIDS = [
  { left: 51, top: 7, width: 282, height: 186 },
  { left: 386, top: 7, width: 279, height: 186 },
  { left: 51, top: 232, width: 282, height: 187 },
  { left: 386, top: 232, width: 279, height: 187 },
  { left: 51, top: 454, width: 282, height: 186 },
  { left: 386, top: 454, width: 279, height: 186 },
];
const TITLE_POS = [
  { x: 192, y: 0 }, { x: 525, y: 1 },
  { x: 192, y: 224 }, { x: 525, y: 226 },
  { x: 192, y: 450 }, { x: 525, y: 450 },
];
const LEGEND_COL_X = [3, 138, 298, 458, 618];
const LEGEND_TEXT_PAD = [15, 16, 17, 16, 16];
const LEGEND_ROW_Y = [724, 759, 793];

export default function App() {
  const ref = useRef<HTMLDivElement>(null);
  useEffect(() => {
    if (!ref.current) return;
    const chart = echarts.init(ref.current, null, { renderer: "svg" });
    const series: any[] = [];

    ERROR_BARS.forEach((eb) => {
      const s = STRAINS.indexOf(eb.strain);
      const vals = PANEL_DATA[eb.panel][s];
      const color = COLORS[s];
      series.push({
        type: "custom",
        name: "sd " + eb.strain,
        xAxisIndex: eb.panel,
        yAxisIndex: eb.panel,
        silent: true,
        z: 2,
        encode: { x: 0, y: [1, 2] },
        data: HOURS.map((h, i) => [h, Math.max(vals[i] - eb.sd[i], 0.102), vals[i] + eb.sd[i]]),
        renderItem: (params: any, api: any) => {
          const lo = api.coord([api.value(0), api.value(1)]);
          const hi = api.coord([api.value(0), api.value(2)]);
          const st = { stroke: color, lineWidth: 1, opacity: 0.75 };
          const c = 2.5;
          return {
            type: "group",
            children: [
              { type: "line", shape: { x1: lo[0], y1: lo[1], x2: hi[0], y2: hi[1] }, style: st },
              { type: "line", shape: { x1: hi[0] - c, y1: hi[1], x2: hi[0] + c, y2: hi[1] }, style: st },
              { type: "line", shape: { x1: lo[0] - c, y1: lo[1], x2: lo[0] + c, y2: lo[1] }, style: st },
            ],
          };
        },
      });
    });

    PANEL_DATA.forEach((panel, p) => {
      panel.forEach((vals, s) => {
        const hollow = SYMBOLS[s] === "emptyCircle";
        series.push({
          type: "line",
          name: STRAINS[s],
          xAxisIndex: p,
          yAxisIndex: p,
          data: HOURS.map((h, i) => [h, vals[i]]),
          symbol: SYMBOLS[s],
          symbolSize: SYMBOL_SIZES[s],
          symbolRotate: SYMBOL_ROTATE[s],
          showSymbol: true,
          showAllSymbol: true,
          silent: true,
          z: 3,
          lineStyle: { width: 1, color: COLORS[s] },
          itemStyle: hollow
            ? { color: COLORS[s], borderColor: COLORS[s], borderWidth: 1.8 }
            : { color: COLORS[s], borderWidth: 0 },
        });
      });
    });

    const axisText = { fontSize: 15, fontWeight: "bold", color: "#000", fontFamily: FONT };
    const option: any = {
      animation: false,
      textStyle: { fontFamily: FONT },
      title: PANEL_TITLES.map((t, p) => ({
        text: t,
        left: TITLE_POS[p].x,
        top: TITLE_POS[p].y,
        textAlign: "center",
        padding: 0,
        textStyle: { fontSize: 17, fontWeight: "bold", color: "#000", fontFamily: FONT },
      })),
      grid: GRIDS.map((g) => ({ ...g, containLabel: false })),
      xAxis: GRIDS.map((_, p) => ({
        gridIndex: p,
        type: "value",
        min: 0,
        max: 48,
        interval: X_TICK_INTERVAL,
        axisLine: { show: true, onZero: false, lineStyle: { color: "#000", width: 2 } },
        axisTick: { show: true, length: 5, lineStyle: { color: "#000", width: 2 } },
        axisLabel: { ...axisText, margin: 8 },
        splitLine: { show: false },
        name: p >= 4 ? "Time (h)" : "",
        nameLocation: "middle",
        nameGap: 32,
        nameTextStyle: { fontSize: 14, fontWeight: "bold", color: "#000", fontFamily: FONT },
      })),
      yAxis: GRIDS.map((_, p) => ({
        gridIndex: p,
        type: "log",
        logBase: 10,
        min: 0.1,
        max: 10,
        axisLine: { show: true, onZero: false, lineStyle: { color: "#000", width: 2 } },
        axisTick: { show: true, length: 5, lineStyle: { color: "#000", width: 2 } },
        axisLabel: {
          ...axisText,
          margin: 5,
          formatter: (v: number) => (v < 0.5 ? "0.1" : String(Math.round(v))),
        },
        splitLine: { show: false },
        minorTick: { show: false },
        name: p % 2 === 0 ? "{a|Log}{s|10}{a| OD}{s|600}" : "",
        nameLocation: "middle",
        nameRotate: 90,
        nameGap: 33,
        nameTextStyle: {
          rich: {
            a: { fontSize: 17, fontWeight: "bold", color: "#000", fontFamily: FONT },
            s: { fontSize: 10, fontWeight: "bold", color: "#000", fontFamily: FONT, verticalAlign: "bottom", lineHeight: 6 },
          },
        },
      })),
      legend: STRAINS.map((name, i) => ({
        data: [{ name, itemStyle: { color: COLORS[i] } }],
        left: LEGEND_COL_X[i % 5],
        top: LEGEND_ROW_Y[Math.floor(i / 5)] - 7,
        padding: 0,
        itemWidth: 29,
        itemHeight: 12,
        selectedMode: false,
        lineStyle: { width: 2 },
        textStyle: { fontSize: 17, color: "#000", fontFamily: FONT, padding: [0, 0, 0, LEGEND_TEXT_PAD[i % 5]] },
      })),
      series,
    };
    chart.setOption(option);
    return () => chart.dispose();
  }, []);
  return <div ref={ref} style={{ position: "absolute", left: 0, top: 0, width: 709, height: 806 }} />;
}
